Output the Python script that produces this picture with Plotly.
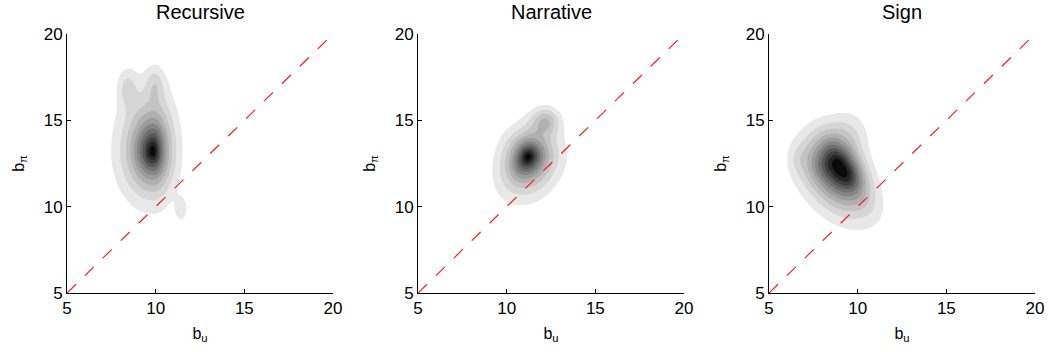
import numpy as np
import plotly.graph_objects as go

# ---------------- data ----------------
panel_titles = ["Recursive", "Narrative", "Sign"]
axis_min, axis_max = 5, 20
tick_vals = [5, 10, 15, 20]

# Density shapes. Per component:
# centre x/y, rotation (deg), spread along +u / -u / +v / -v, shape exponent, weight
rec_cx = [9.85, 8.4, 9.95, 11.45]
rec_cy = [13.2, 16.9, 17.1, 9.85]
rec_ang = [0, 0, 0, 0]
rec_sup = [0.85, 0.55, 0.55, 0.33]
rec_sun = [1.2, 0.55, 0.55, 0.33]
rec_svp = [2.15, 1.1, 1.0, 0.7]
rec_svn = [1.84, 1.1, 1.0, 0.7]
rec_p = [1.3, 2.0, 2.0, 2.0]
rec_w = [1.0, 0.15, 0.14, 0.14]

nar_cx = [11.2, 12.2]
nar_cy = [12.9, 14.95]
nar_ang = [70, 0]
nar_sup = [1.17, 0.78]
nar_sun = [1.47, 0.78]
nar_svp = [0.95, 0.78]
nar_svn = [1.12, 0.78]
nar_p = [1.3, 2.0]
nar_w = [1.0, 0.27]

sig_cx = [8.87, 9.5, 9.6, 6.6]
sig_cy = [12.4, 14.3, 11.8, 12.8]
sig_ang = [-60, 0, 0, 0]
sig_sup = [2.45, 1.2, 0.7, 0.5]
sig_sun = [1.75, 1.2, 0.7, 0.5]
sig_svp = [1.1, 1.4, 0.9, 0.9]
sig_svn = [1.6, 1.4, 0.9, 0.9]
sig_p = [1.7, 2.0, 2.0, 2.0]
sig_w = [1.0, 0.14, 0.12, 0.06]

band_grays = [232, 214, 196, 176, 156, 134, 112, 88, 62, 36, 10]

# ---------------- build ----------------
gx = np.linspace(axis_min, axis_max, 376)
gy = np.linspace(axis_min, axis_max, 376)
X, Y = np.meshgrid(gx, gy)


def density(cx, cy, ang, sup, sun, svp, svn, p, w):
    Z = np.zeros_like(X)
    for k in range(len(cx)):
        t = np.deg2rad(ang[k])
        dx, dy = X - cx[k], Y - cy[k]
        u = dx * np.cos(t) + dy * np.sin(t)
        v = -dx * np.sin(t) + dy * np.cos(t)
        un = np.where(u >= 0, u / sup[k], u / sun[k])
        vn = np.where(v >= 0, v / svp[k], v / svn[k])
        r = np.sqrt(un * un + vn * vn)
        Z += w[k] * np.exp(-r ** p[k])
    return Z / Z.max()


dens = [
    density(rec_cx, rec_cy, rec_ang, rec_sup, rec_sun, rec_svp, rec_svn, rec_p, rec_w),
    density(nar_cx, nar_cy, nar_ang, nar_sup, nar_sun, nar_svp, nar_svn, nar_p, nar_w),
    density(sig_cx, sig_cy, sig_ang, sig_sup, sig_sun, sig_svp, sig_svn, sig_p, sig_w),
]

n_b = len(band_grays)
lev_start = 0.09
lev_size = (1.0 - lev_start) / n_b
lev_end = lev_start + lev_size * (n_b - 1)

# discrete colour scale: white below first level, then one grey per band
cscale = [[0.0, "rgb(255,255,255)"], [round(lev_start, 6), "rgb(255,255,255)"]]
for k, g in enumerate(band_grays):
    lo = round(lev_start + k * lev_size, 6)
    hi = round(lev_start + (k + 1) * lev_size, 6)
    if k == n_b - 1:
        hi = 1.0
    c = f"rgb({g},{g},{g})"
    cscale.append([lo, c])
    cscale.append([hi, c])

W, H = 1049, 352
px_left = [67, 418, 769]
px_w = 266
py_top, py_bot = 34, 293

fig = go.Figure()
font_fam = "Liberation Sans, Arial, Helvetica, sans-serif"

for i in range(3):
    xa = "x" if i == 0 else f"x{i+1}"
    ya = "y" if i == 0 else f"y{i+1}"
    fig.add_trace(go.Contour(
        x=gx, y=gy, z=dens[i], xaxis=xa, yaxis=ya,
        autocontour=False,
        contours=dict(start=lev_start, end=lev_end, size=lev_size,
                      coloring="fill", showlines=False),
        line=dict(width=0),
        colorscale=cscale, zmin=0, zmax=1, showscale=False,
        hoverinfo="skip",
    ))
    # 45-degree reference line on top of the density
    fig.add_shape(
        type="line", x0=axis_min, y0=axis_min, x1=axis_max, y1=axis_max,
        xref=xa, yref=ya, layer="above",
        line=dict(color="#ff1a1a", width=1.2, dash="12.5px,12.5px"),
    )
    dom_x = [px_left[i] / W, (px_left[i] + px_w) / W]
    dom_y = [(H - py_bot) / H, (H - py_top) / H]
    ax_common = dict(
        range=[axis_min, axis_max], tickvals=tick_vals, ticks="inside",
        ticklen=4, tickcolor="black", tickwidth=1,
        showline=True, linecolor="black", linewidth=1, mirror=False,
        showgrid=False, zeroline=False, automargin=False,
        tickfont=dict(family=font_fam, size=17, color="black"),
    )
    fig.update_layout(**{
        ("xaxis" if i == 0 else f"xaxis{i+1}"): dict(
            domain=dom_x, anchor=ya,
            title=dict(text="b<sub>u</sub>", standoff=10,
                       font=dict(family=font_fam, size=16, color="black")),
            **ax_common),
        ("yaxis" if i == 0 else f"yaxis{i+1}"): dict(
            domain=dom_y, anchor=xa,
            title=dict(text="b<sub>π</sub>", standoff=15,
                       font=dict(family=font_fam, size=16, color="black")),
            **ax_common),
    })
    fig.add_annotation(
        text=panel_titles[i], x=(px_left[i] + px_w / 2) / W, y=1 - 12 / H,
        xref="paper", yref="paper", showarrow=False,
        xanchor="center", yanchor="middle",
        font=dict(family=font_fam, size=20, color="black"),
    )

fig.update_layout(
    width=W, height=H, margin=dict(l=0, r=0, t=0, b=0),
    paper_bgcolor="white", plot_bgcolor="white", showlegend=False,
)
fig.write_html("out.html")
